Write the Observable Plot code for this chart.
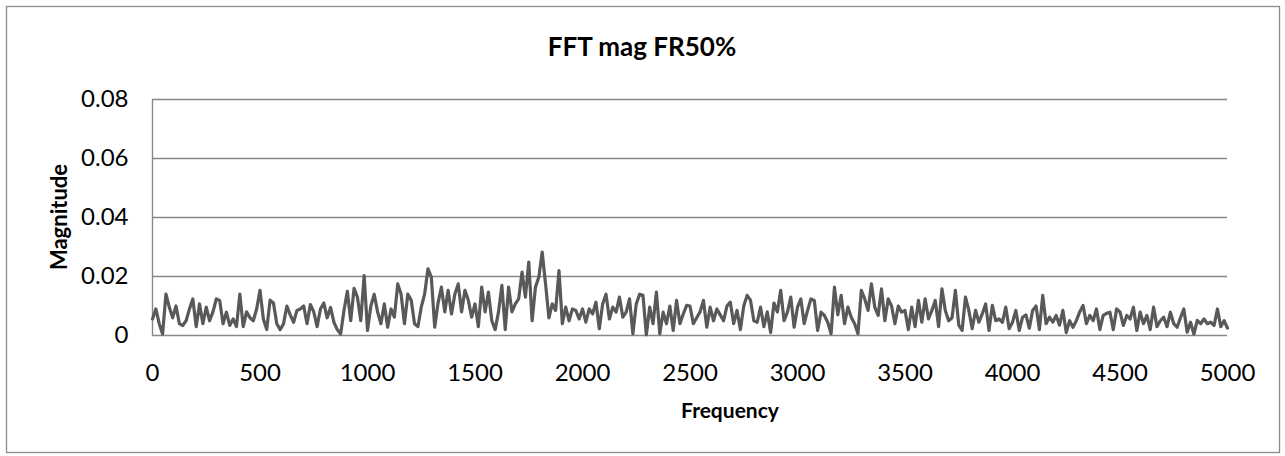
<!DOCTYPE html>
<html><head><meta charset="utf-8">
<script src="https://cdn.jsdelivr.net/npm/d3@7"></script>
<script src="https://cdn.jsdelivr.net/npm/@observablehq/plot@0.6"></script>
<style>body{margin:0;background:#fff} svg{display:block}</style>
</head><body><div id="chart"></div>
<script>
const chartTitle = "FFT mag FR50%";
const xTitle = "Frequency";
const yTitle = "Magnitude";
const binStep = 15.625; // Hz between FFT bins
// magnitudes in thousandths, one array per 500 Hz band
const band0 = [5.6,9,4,0.5,14,9.6,6,10,4,3.4,5,9,12.4,3,10.7,4,9.6,5,8,12.4,11.9,4,7.9,3.4,5.6,3,14,3,8,6,5,9];
const band1 = [15.3,5.6,2,12,11,4,2,4,10,7,4.5,8.5,9,10,4,10.5,8,3,9,11,6,9.5,4.5,2,0.5,8.5,15,5,16,13,5,20.3];
const band2 = [1.7,10,14,8,4,10.7,2.8,9,6.2,17.5,14,4,14,12,4,3,9.6,14,22.6,19.8,2.8,11,16.4,8,15.3,7.3,14,17.5,8,15.3,12,6.2];
const band3 = [10.7,3,16.4,8,14.7,5,2,8,17,2,16.4,8,10.7,12.4,21.5,13,24.9,5,16.4,19.8,28.3,17.5,6,10.7,8.5,22,4,9.6,5,9,8.5,5.6];
const band4 = [9,4.5,9,7.3,11.3,2.3,10.7,14,5.6,9.6,7.9,13,6.2,7.9,12.4,0.6,10.7,14,13.6,0.2,9.6,4,14.7,0.6,7.9,4,10,1.7,11.9,4,7.3,10.2];
const band5 = [10,4,6,8,11.9,2.8,9.6,5,9,7,5,10,11.3,4,8.5,2,10,13.6,12,5,4.5,9.6,3,8,1,11,8,15.3,5,7.9,13,2.8];
const band6 = [9.6,12.4,4,8.5,12.4,11.9,1.7,7.9,6.8,4.5,0.6,16.4,7,13.6,4,9.6,6.2,4,0.6,15.3,12.4,8.5,17.5,9.6,6.8,15.8,5,12.4,10,4,10,7.9];
const band7 = [8.5,2,9.6,3,11.9,4.5,12.4,5.6,8.5,11.9,3,15.8,8.5,5,6,15.3,3.5,1.7,13,8.5,2.3,8.5,4.5,7.3,10.7,1.7,10.2,5,5.6,4.5,9.6,2.3];
const band8 = [4.5,8.5,1.7,6.2,7,2.5,8.5,10,2,13.6,4,6.2,4.5,6.8,3.5,8.5,1,5,2.8,5,8,10.2,4,6.8,5,9,2,6.8,7.5,7.9,2,9];
const band9 = [8,3.4,6.8,5.6,9.6,1.7,7.9,4,6.8,2,9.6,3,5,6.2,3,7.9,4,2.8,6,9,1.1,4.5,0.5,5.1,4,5.6,4,4.5,3.4,9,3,5,2.5];
const xTicks = [0,500,1000,1500,2000,2500,3000,3500,4000,4500,5000];
const yTicks = [0,0.02,0.04,0.06,0.08];
const yTickLabels = ["0","0.02","0.04","0.06","0.08"];

const mags = [].concat(band0,band1,band2,band3,band4,band5,band6,band7,band8,band9);
const data = mags.map((m,i)=>({freq: i*binStep, mag: m/1000}));

const W = 1285, H = 456;
const plot = Plot.plot({
  width: W, height: H,
  marginLeft: 152, marginRight: 58, marginTop: 99, marginBottom: 121,
  x: {domain: [0,5000]},
  y: {domain: [0,0.08]},
  style: {fontFamily: "Lato, 'Open Sans', sans-serif", background: "#fff", color: "#000"},
  marks: [
    Plot.ruleY(yTicks.slice(1), {stroke: "#888", strokeWidth: 1.4}),
    Plot.ruleY([0], {stroke: "#888", strokeWidth: 1.4}),
    Plot.ruleX([0], {stroke: "#888", strokeWidth: 1.4}),
    Plot.axisY(yTicks, {tickSize: 0, tickPadding: 24, fontSize: 24, fill: "#000",
      tickFormat: d => yTickLabels[yTicks.indexOf(d)], label: null}),
    Plot.axisX(xTicks, {tickSize: 0, tickPadding: 28, fontSize: 24, fill: "#000",
      tickFormat: d => String(d), label: null}),
    Plot.line(data, {x: "freq", y: "mag", stroke: "#595959", strokeWidth: 3.2, strokeLinejoin: "round"})
  ]
});
document.getElementById("chart").appendChild(plot);

const svg = d3.select(plot);
svg.insert("rect", ":first-child")
  .attr("x", 6.5).attr("y", 6.5).attr("width", 1273).attr("height", 446)
  .attr("fill", "#fff").attr("stroke", "#8c8c8c").attr("stroke-width", 1.3);
svg.append("text").text(chartTitle)
  .attr("x", 642).attr("y", 56).attr("text-anchor", "middle")
  .attr("font-size", 26).attr("font-weight", "bold").attr("fill", "#000");
svg.append("text").text(xTitle)
  .attr("x", 730).attr("y", 418).attr("text-anchor", "middle")
  .attr("font-size", 21).attr("font-weight", "bold").attr("fill", "#000");
svg.append("text").text(yTitle)
  .attr("transform", "translate(67,217) rotate(-90)").attr("text-anchor", "middle")
  .attr("font-size", 22).attr("font-weight", "bold").attr("fill", "#000");
</script>
</body></html>
